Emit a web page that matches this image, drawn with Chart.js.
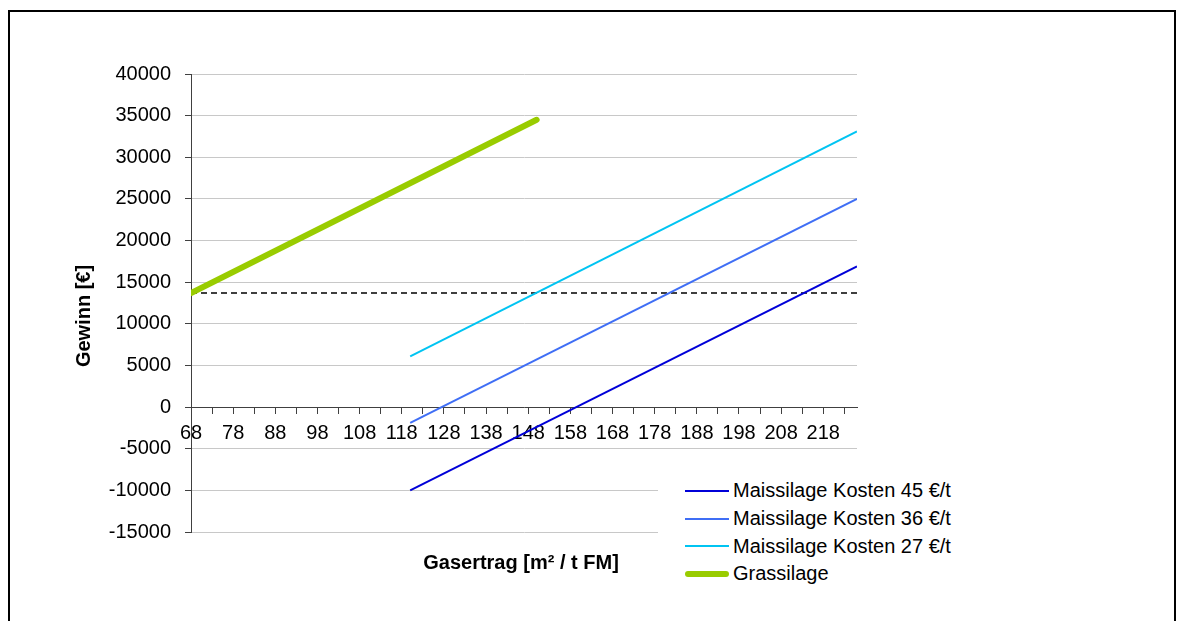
<!DOCTYPE html>
<html>
<head>
<meta charset="utf-8">
<script src="https://cdn.jsdelivr.net/npm/chart.js@4.4.1/dist/chart.umd.min.js"></script>
<style>
    body { margin: 0; background: #fff; }
    #wrap { position: relative; width: 1180px; height: 621px; overflow: hidden; }
    .frame { position: absolute; left: 8px; top: 10px; width: 1164px; height: 700px; border: 2px solid #000; }
    #chart { position: absolute; left: 0; top: 0; }
    #legend {
        position: absolute; left: 658px; top: 477px; width: 310px; height: 114px;
        background: #fff; padding-left: 27px; box-sizing: border-box;
        font-family: 'Liberation Sans', Arial, sans-serif; font-size: 20px; color: #000;
    }
    .item { display: flex; align-items: center; height: 27.7px; }
    .swatch { width: 44px; margin-right: 4px; }
</style>
</head>
<body>
<div id="wrap">
    <div class="frame"></div>
    <canvas id="chart" width="1180" height="621"></canvas>
    <div id="legend"></div>
</div>
<script>
// Gasertrag in m² / t FM
const maisX = [120, 226];
const grasX = [68, 150];
const refX = [68, 226];

// Gewinn in €
const mais45 = [-10000, 16900];
const mais36 = [-1900, 25000];
const mais27 = [6100, 33100];
const gras = [13700, 34500];
const refLine = [13700, 13700];

const seriesLabels = ['Maissilage Kosten 45 €/t', 'Maissilage Kosten 36 €/t', 'Maissilage Kosten 27 €/t', 'Grassilage'];

const xTickMarks = [68, 73, 78, 83, 88, 93, 98, 103, 108, 113, 118, 123, 128, 133, 138, 143,
    148, 153, 158, 163, 168, 173, 178, 183, 188, 193, 198, 203, 208, 213, 218, 223];
const xTickLabels = [68, 78, 88, 98, 108, 118, 128, 138, 148, 158, 168, 178, 188, 198, 208, 218];

const FONT = "'Liberation Sans', Arial, sans-serif";
Chart.defaults.font.family = FONT;
Chart.defaults.font.size = 20;
Chart.defaults.color = '#000';

function points(xs, ys) {
    return xs.map((x, i) => ({ x: x, y: ys[i] }));
}

// axis titles sit away from the axes, so they are drawn by hand
const axisTitles = {
    id: 'axisTitles',
    afterDraw(chart) {
        const ctx = chart.ctx;
        ctx.save();
        ctx.fillStyle = '#000';
        ctx.font = 'bold 20px ' + FONT;
        ctx.textAlign = 'center';
        ctx.textBaseline = 'middle';
        ctx.fillText('Gasertrag [m² / t FM]', 521, 563);
        ctx.translate(84, 316);
        ctx.rotate(-Math.PI / 2);
        ctx.fillText('Gewinn [€]', 0, 0);
        ctx.restore();
    }
};

const ctx = document.getElementById('chart').getContext('2d');
const chart = new Chart(ctx, {
    type: 'line',
    data: {
        datasets: [
            { label: seriesLabels[0], data: points(maisX, mais45), borderColor: '#0000d8', borderWidth: 2 },
            { label: seriesLabels[1], data: points(maisX, mais36), borderColor: '#3f6ef5', borderWidth: 2 },
            { label: seriesLabels[2], data: points(maisX, mais27), borderColor: '#00c4f2', borderWidth: 2 },
            { label: seriesLabels[3], data: points(grasX, gras), borderColor: '#99cc00', borderWidth: 6, borderCapStyle: 'round' },
            { label: '', data: points(refX, refLine), borderColor: '#000', borderWidth: 1.5, borderDash: [6, 4], inLegend: false }
        ]
    },
    options: {
        responsive: false,
        animation: false,
        elements: { point: { radius: 0 }, line: { tension: 0 } },
        layout: { padding: { top: 74, right: 323, bottom: 89, left: 0 } },
        plugins: { legend: { display: false }, tooltip: { enabled: false } },
        scales: {
            x: {
                type: 'linear',
                min: 68,
                max: 226,
                position: { y: 0 },
                afterBuildTicks: scale => {
                    scale.ticks = xTickMarks.map(v => ({ value: v }));
                },
                ticks: {
                    autoSkip: false,
                    maxRotation: 0,
                    padding: 8,
                    callback: v => xTickLabels.includes(v) ? String(v) : ''
                },
                grid: { drawOnChartArea: false, tickLength: 6, tickColor: '#404040' },
                border: { color: '#404040', width: 1 }
            },
            y: {
                min: -15000,
                max: 40000,
                afterFit: scale => { scale.width = 191; },
                ticks: { stepSize: 5000, padding: 14, callback: v => String(v) },
                grid: { color: '#c8c8c8', tickLength: 6, tickColor: '#404040' },
                border: { color: '#404040', width: 1 }
            }
        }
    },
    plugins: [axisTitles]
});

// legend built from the datasets
const legend = document.getElementById('legend');
chart.data.datasets.filter(ds => ds.inLegend !== false).forEach(ds => {
    const item = document.createElement('div');
    item.className = 'item';
    const sw = document.createElement('div');
    sw.className = 'swatch';
    sw.style.height = ds.borderWidth + 'px';
    sw.style.background = ds.borderColor;
    sw.style.borderRadius = ds.borderWidth > 2 ? '3px' : '0';
    const label = document.createElement('span');
    label.textContent = ds.label;
    item.appendChild(sw);
    item.appendChild(label);
    legend.appendChild(item);
});
</script>
</body>
</html>
